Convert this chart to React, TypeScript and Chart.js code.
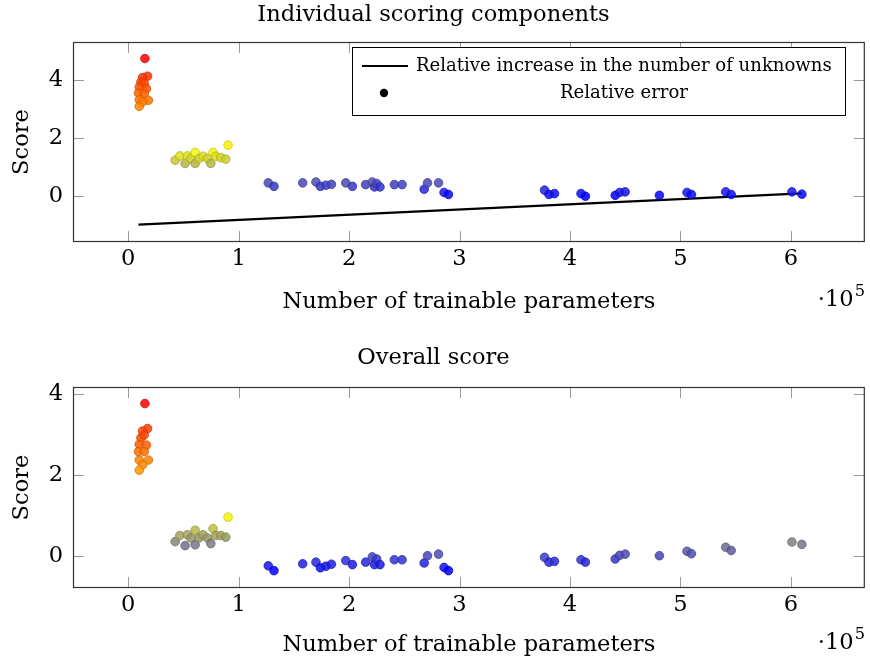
import React, { useEffect, useRef } from "react";
import { Chart, registerables } from "chart.js";
Chart.register(...registerables);

// Number of trainable parameters (×10^5), shared by both panels
const X_PARAMS = [
  0.151, 0.175, 0.13, 0.115, 0.145, 0.1, 0.165, 0.093, 0.145, 0.1, 0.183, 0.13, 0.1,
  0.904, 0.425, 0.467, 0.515, 0.536, 0.567, 0.606, 0.606, 0.642, 0.678, 0.717, 0.748, 0.768, 0.793, 0.838, 0.883,
  1.268, 1.32, 1.58, 1.7, 1.74, 1.79, 1.84, 1.97, 2.03, 2.15, 2.21, 2.23, 2.25, 2.28, 2.41, 2.48, 2.68, 2.71, 2.81, 2.86, 2.9,
  3.77, 3.81, 3.86, 4.1, 4.14, 4.41, 4.45, 4.5, 4.81, 5.06, 5.1, 5.41, 5.46, 6.01, 6.1,
];
// Relative error (top panel)
const REL_ERROR = [
  4.75, 4.14, 4.09, 3.94, 3.89, 3.77, 3.71, 3.56, 3.54, 3.33, 3.31, 3.25, 3.1,
  1.76, 1.24, 1.39, 1.13, 1.39, 1.3, 1.51, 1.13, 1.3, 1.38, 1.3, 1.13, 1.51, 1.38, 1.33, 1.28,
  0.46, 0.34, 0.46, 0.49, 0.34, 0.38, 0.41, 0.46, 0.34, 0.4, 0.49, 0.32, 0.44, 0.32, 0.4, 0.4, 0.24, 0.46, 0.46, 0.13, 0.06,
  0.21, 0.06, 0.09, 0.09, 0.0, 0.03, 0.13, 0.15, 0.03, 0.13, 0.06, 0.15, 0.06, 0.15, 0.07,
];
// Overall score (bottom panel)
const OVERALL = [
  3.77, 3.15, 3.09, 2.92, 2.99, 2.76, 2.74, 2.58, 2.58, 2.37, 2.37, 2.25, 2.12,
  0.955, 0.35, 0.5, 0.25, 0.52, 0.44, 0.63, 0.27, 0.44, 0.52, 0.44, 0.3, 0.67, 0.5, 0.5, 0.46,
  -0.25, -0.37, -0.2, -0.16, -0.3, -0.26, -0.21, -0.12, -0.22, -0.16, -0.03, -0.22, -0.08, -0.22, -0.1, -0.1, -0.18, 0.0, 0.04, -0.29, -0.37,
  -0.04, -0.16, -0.14, -0.1, -0.16, -0.08, 0.01, 0.04, 0.0, 0.11, 0.05, 0.21, 0.13, 0.34, 0.28,
];
// Relative increase in the number of unknowns (line)
const LINE_X = [0.093, 6.1];
const LINE_Y = [-0.98, 0.1];

const X_TICKS = [0, 1, 2, 3, 4, 5, 6];
const Y_TICKS = [0, 2, 4];

const TITLE_TOP = "Individual scoring components";
const TITLE_BOTTOM = "Overall score";
const X_LABEL = "Number of trainable parameters";
const Y_LABEL = "Score";
const LEGEND_LINE = "Relative increase in the number of unknowns";
const LEGEND_DOT = "Relative error";

const FAMILY = '"DejaVu Serif", serif';

function fitSize(text: string, target: number) {
  const c = document.createElement("canvas").getContext("2d")!;
  c.font = `100px ${FAMILY}`;
  return (100 * target) / c.measureText(text).width;
}

function cmap(v: number, lo: number, hi: number): number[] {
  const t = Math.max(0, Math.min(1, (v - lo) / (hi - lo)));
  const stops: [number, number[]][] = [
    [0, [0, 0, 255]],
    [1 / 3, [255, 255, 0]],
    [1, [255, 0, 0]],
  ];
  for (let i = 0; i < stops.length - 1; i++) {
    const [t0, c0] = stops[i];
    const [t1, c1] = stops[i + 1];
    if (t <= t1) {
      const f = (t - t0) / (t1 - t0);
      return c0.map((c, k) => Math.round(c + (c1[k] - c) * f));
    }
  }
  return stops[stops.length - 1][1];
}

type Panel = {
  title: string;
  values: number[];
  titleCenter: number;
  areaTop: number;
  areaBottom: number;
  xTitleCenter: number;
  yMin: number;
  yMax: number;
  sciBaseline: number;
  legend: boolean;
  showLine: boolean;
};

const W = 870;
const H = 331;

function makeChart(canvas: HTMLCanvasElement, p: Panel, S: number, L: number) {
  const lh = S * 1.2;
  const lo = Math.min(...p.values);
  const hi = Math.max(...p.values);
  const cols = p.values.map((v) => cmap(v, lo, hi));
  const bg = cols.map((c) => `rgba(${c[0]},${c[1]},${c[2]},0.85)`);
  const bd = cols.map((c) => `rgba(${Math.round(c[0] * 0.8)},${Math.round(c[1] * 0.8)},${Math.round(c[2] * 0.8)},0.85)`);

  const datasets: any[] = [
    {
      type: "scatter",
      data: X_PARAMS.map((x, i) => ({ x, y: p.values[i] })),
      pointRadius: 4.3,
      pointBorderWidth: 0.9,
      pointBackgroundColor: bg,
      pointBorderColor: bd,
      order: 0,
    },
  ];
  if (p.showLine) {
    datasets.push({
      type: "line",
      data: LINE_X.map((x, i) => ({ x, y: LINE_Y[i] })),
      borderColor: "#000",
      borderWidth: 2.2,
      pointRadius: 0,
      fill: false,
      order: 1,
    });
  }

  const framePlugin = {
    id: "frame",
    beforeDatasetsDraw(chart: any) {
      const { ctx, chartArea } = chart;
      const { left, right, top, bottom } = chartArea;
      const xs = chart.scales.x;
      const ys = chart.scales.y;
      ctx.save();
      ctx.strokeStyle = "#9a9a9a";
      ctx.lineWidth = 1;
      ctx.beginPath();
      X_TICKS.forEach((v) => {
        const px = Math.round(xs.getPixelForValue(v)) + 0.5;
        ctx.moveTo(px, bottom);
        ctx.lineTo(px, bottom - 11);
        ctx.moveTo(px, top);
        ctx.lineTo(px, top + 11);
      });
      Y_TICKS.forEach((v) => {
        const py = Math.round(ys.getPixelForValue(v)) + 0.5;
        ctx.moveTo(left, py);
        ctx.lineTo(left + 11, py);
        ctx.moveTo(right, py);
        ctx.lineTo(right - 11, py);
      });
      ctx.stroke();
      ctx.restore();
    },
    afterDraw(chart: any) {
      const { ctx, chartArea } = chart;
      const { left, right, top, bottom } = chartArea;
      ctx.save();
      ctx.strokeStyle = "#333";
      ctx.lineWidth = 1.2;
      ctx.strokeRect(left + 0.5, top + 0.5, right - left - 1, bottom - top - 1);

      // scale factor ·10^5
      ctx.fillStyle = "#000";
      ctx.textBaseline = "alphabetic";
      ctx.textAlign = "left";
      ctx.font = `${S}px ${FAMILY}`;
      const w1 = ctx.measureText("·10").width;
      const sS = S * 0.72;
      ctx.font = `${sS}px ${FAMILY}`;
      const w2 = ctx.measureText("5").width;
      const x0 = 864 - w1 - w2;
      ctx.font = `${S}px ${FAMILY}`;
      ctx.fillText("·10", x0, p.sciBaseline);
      ctx.font = `${sS}px ${FAMILY}`;
      ctx.fillText("5", x0 + w1 + 1, p.sciBaseline - S * 0.45);

      if (p.legend) {
        const bx = 352, by = 47, bw = 493, bh = 68;
        ctx.fillStyle = "#fff";
        ctx.fillRect(bx, by, bw, bh);
        ctx.strokeStyle = "#000";
        ctx.lineWidth = 1;
        ctx.strokeRect(bx + 0.5, by + 0.5, bw, bh);
        ctx.lineWidth = 2.2;
        ctx.beginPath();
        ctx.moveTo(362, 66);
        ctx.lineTo(408, 66);
        ctx.stroke();
        ctx.fillStyle = "#000";
        ctx.beginPath();
        ctx.arc(384, 93, 4.2, 0, Math.PI * 2);
        ctx.fill();
        ctx.font = `${L}px ${FAMILY}`;
        ctx.textBaseline = "middle";
        ctx.textAlign = "left";
        ctx.fillText(LEGEND_LINE, 416, 66);
        ctx.textAlign = "center";
        ctx.fillText(LEGEND_DOT, 624, 93);
      }
      ctx.restore();
    },
  };

  return new Chart(canvas, {
    type: "scatter",
    data: { datasets },
    plugins: [framePlugin],
    options: {
      animation: false,
      responsive: false,
      devicePixelRatio: 1,
      layout: { padding: { left: 0, right: 3, top: 0, bottom: 0 } },
      plugins: {
        legend: { display: false },
        tooltip: { enabled: false },
        title: {
          display: true,
          text: p.title,
          color: "#000",
          font: { family: FAMILY, size: S, weight: "normal", lineHeight: 1.2 },
          padding: { top: p.titleCenter - lh / 2, bottom: p.areaTop - lh - (p.titleCenter - lh / 2) },
        },
      },
      scales: {
        x: {
          type: "linear",
          min: -0.5,
          max: 6.67,
          afterBuildTicks: (s: any) => {
            s.ticks = X_TICKS.map((v) => ({ value: v }));
          },
          afterFit: (s: any) => {
            s.height = H - p.areaBottom;
          },
          grid: { display: false, drawTicks: false },
          border: { display: false },
          ticks: {
            color: "#000",
            font: { family: FAMILY, size: S, lineHeight: 1.2 },
            padding: 4,
            maxRotation: 0,
            callback: (v: any) => String(v),
          },
          title: {
            display: true,
            text: X_LABEL,
            color: "#000",
            font: { family: FAMILY, size: S, lineHeight: 1.2 },
            padding: { top: 0, bottom: H - p.xTitleCenter - lh / 2 },
          },
        },
        y: {
          type: "linear",
          min: p.yMin,
          max: p.yMax,
          afterBuildTicks: (s: any) => {
            s.ticks = Y_TICKS.map((v) => ({ value: v }));
          },
          afterFit: (s: any) => {
            s.width = 73;
          },
          grid: { display: false, drawTicks: false },
          border: { display: false },
          ticks: {
            color: "#000",
            font: { family: FAMILY, size: S, lineHeight: 1.2 },
            padding: 10,
            callback: (v: any) => String(v),
          },
          title: {
            display: true,
            text: Y_LABEL,
            color: "#000",
            font: { family: FAMILY, size: S, lineHeight: 1.2 },
            padding: { top: 22 - lh / 2, bottom: 0 },
          },
        },
      },
    } as any,
  });
}

export default function App() {
  const topRef = useRef<HTMLCanvasElement>(null);
  const botRef = useRef<HTMLCanvasElement>(null);

  useEffect(() => {
    const S = fitSize(X_LABEL, 373);
    const L = fitSize(LEGEND_LINE, 416);
    const top = makeChart(topRef.current!, {
      title: TITLE_TOP,
      values: REL_ERROR,
      titleCenter: 15,
      areaTop: 42,
      areaBottom: 242,
      xTitleCenter: 302,
      yMin: -1.58,
      yMax: 5.32,
      sciBaseline: 306,
      legend: true,
      showLine: true,
    }, S, L);
    const bot = makeChart(botRef.current!, {
      title: TITLE_BOTTOM,
      values: OVERALL,
      titleCenter: 27,
      areaTop: 56,
      areaBottom: 257,
      xTitleCenter: 314,
      yMin: -0.8,
      yMax: 4.18,
      sciBaseline: 318,
      legend: false,
      showLine: false,
    }, S, L);
    return () => {
      top.destroy();
      bot.destroy();
    };
  }, []);

  return (
    <div style={{ position: "absolute", left: 0, top: 0, width: W, height: 2 * H, background: "#fff" }}>
      <canvas ref={topRef} width={W} height={H} style={{ position: "absolute", left: 0, top: 0 }} />
      <canvas ref={botRef} width={W} height={H} style={{ position: "absolute", left: 0, top: H }} />
    </div>
  );
}
